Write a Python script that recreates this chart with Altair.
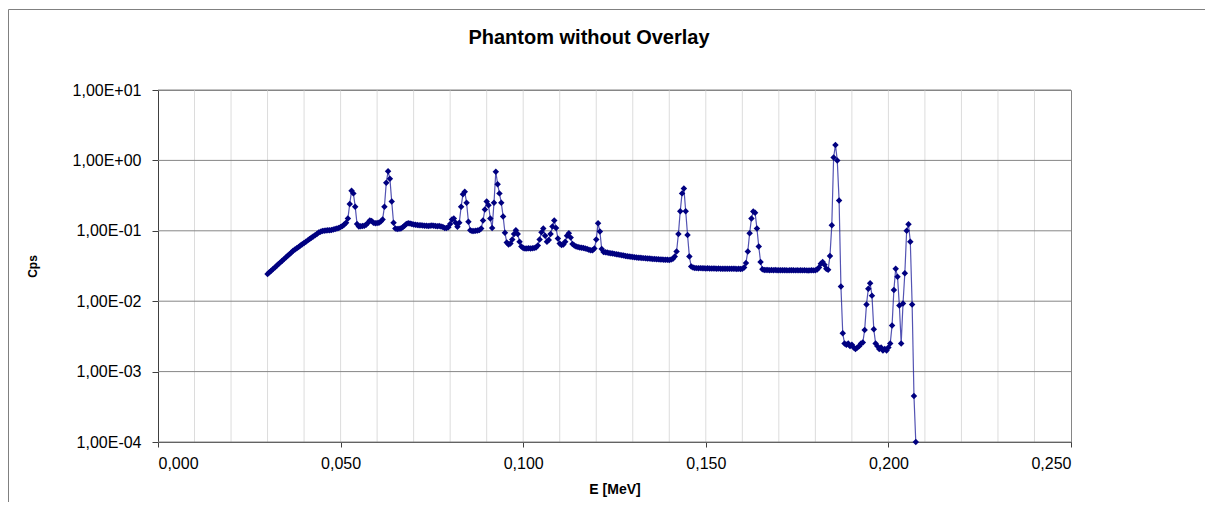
import altair as alt
import pandas as pd

# ---- data ----
TITLE = "Phantom without Overlay"
E_START = 0.0300   # MeV, first channel
E_STEP = 0.0005    # MeV, channel width

CPS_030_050 = [0.0243, 0.0257, 0.0271, 0.0286, 0.0302, 0.0319, 0.0337, 0.0356, 0.0375, 0.0396,
               0.0418, 0.0442, 0.0466, 0.0492, 0.0519, 0.0542, 0.0566, 0.0590, 0.0617, 0.0643,
               0.0671, 0.0700, 0.0731, 0.0762, 0.0796, 0.0830, 0.0867, 0.0904, 0.0944, 0.0973,
               0.0993, 0.1000, 0.1010, 0.1015, 0.1020, 0.1030, 0.1040, 0.1060, 0.1080, 0.1100]
CPS_050_080 = [0.1130, 0.1170, 0.1230, 0.1300, 0.1500, 0.2400, 0.3700, 0.3400, 0.2200, 0.1250,
               0.1150, 0.1160, 0.1170, 0.1180, 0.1220, 0.1300, 0.1400, 0.1380, 0.1300, 0.1280,
               0.1290, 0.1300, 0.1350, 0.1450, 0.2200, 0.4800, 0.7000, 0.5500, 0.2600, 0.1300,
               0.1080, 0.1060, 0.1070, 0.1080, 0.1120, 0.1180, 0.1250, 0.1280, 0.1270, 0.1250,
               0.1230, 0.1220, 0.1210, 0.1200, 0.1200, 0.1190, 0.1180, 0.1180, 0.1170, 0.1180,
               0.1190, 0.1180, 0.1170, 0.1160, 0.1170, 0.1150, 0.1130, 0.1100, 0.1100, 0.1120]
CPS_080_110 = [0.1250, 0.1450, 0.1500, 0.1300, 0.1140, 0.1300, 0.2200, 0.3300, 0.3600, 0.2500,
               0.1340, 0.1020, 0.0990, 0.0990, 0.1000, 0.1010, 0.1030, 0.1080, 0.1400, 0.2000,
               0.2600, 0.2300, 0.1500, 0.1100, 0.2500, 0.6900, 0.4600, 0.3400, 0.2500, 0.1600,
               0.0940, 0.0680, 0.0640, 0.0660, 0.0750, 0.0900, 0.1020, 0.0900, 0.0700, 0.0600,
               0.0570, 0.0560, 0.0560, 0.0565, 0.0560, 0.0565, 0.0570, 0.0580, 0.0620, 0.0750,
               0.0950, 0.1080, 0.0850, 0.0700, 0.0740, 0.0900, 0.1150, 0.1400, 0.1100, 0.0780]
CPS_110_140 = [0.0660, 0.0630, 0.0640, 0.0700, 0.0850, 0.0920, 0.0800, 0.0650, 0.0620, 0.0600,
               0.0590, 0.0580, 0.0575, 0.0570, 0.0560, 0.0550, 0.0540, 0.0530, 0.0530, 0.0560,
               0.0750, 0.1280, 0.0980, 0.0550, 0.0500, 0.0495, 0.0490, 0.0485, 0.0480, 0.0475,
               0.0470, 0.0465, 0.0460, 0.0455, 0.0450, 0.0445, 0.0440, 0.0436, 0.0432, 0.0428,
               0.0424, 0.0421, 0.0418, 0.0415, 0.0413, 0.0411, 0.0409, 0.0407, 0.0405, 0.0403,
               0.0401, 0.0399, 0.0397, 0.0395, 0.0393, 0.0391, 0.0390, 0.0389, 0.0388, 0.0387]
CPS_140_170 = [0.0386, 0.0390, 0.0400, 0.0430, 0.0510, 0.0900, 0.1900, 0.3400, 0.4000, 0.1900,
               0.0870, 0.0433, 0.0310, 0.0300, 0.0296, 0.0295, 0.0294, 0.0295, 0.0293, 0.0294,
               0.0292, 0.0293, 0.0292, 0.0291, 0.0292, 0.0291, 0.0290, 0.0291, 0.0290, 0.0289,
               0.0290, 0.0289, 0.0290, 0.0289, 0.0288, 0.0289, 0.0288, 0.0287, 0.0288, 0.0287,
               0.0290, 0.0300, 0.0350, 0.0510, 0.0920, 0.1500, 0.1880, 0.1800, 0.1080, 0.0600,
               0.0360, 0.0285, 0.0278, 0.0277, 0.0278, 0.0276, 0.0277, 0.0276, 0.0277, 0.0276]
CPS_170_200 = [0.0275, 0.0276, 0.0275, 0.0276, 0.0275, 0.0274, 0.0275, 0.0276, 0.0275, 0.0274,
               0.0275, 0.0274, 0.0275, 0.0274, 0.0275, 0.0274, 0.0273, 0.0274, 0.0275, 0.0274,
               0.0276, 0.0282, 0.0300, 0.0340, 0.0360, 0.0330, 0.0290, 0.0280, 0.0440, 0.1200,
               1.1000, 1.6600, 1.0000, 0.2700, 0.0162, 0.0035, 0.0025, 0.0024, 0.0025, 0.0023,
               0.0024, 0.0022, 0.0021, 0.0022, 0.0023, 0.0025, 0.0026, 0.0039, 0.0090, 0.0150,
               0.0180, 0.0120, 0.0040, 0.0025, 0.0023, 0.0021, 0.0022, 0.0020, 0.0021, 0.0020]
CPS_200_END = [0.0022, 0.0025, 0.0045, 0.0144, 0.0290, 0.0222, 0.0087, 0.0025, 0.0093, 0.0250,
               0.1000, 0.1240, 0.0700, 0.0090, 0.00045, 0.0001]

X_TICKS = [0.0, 0.05, 0.10, 0.15, 0.20, 0.25]
X_MINOR_GRID = [0.01, 0.02, 0.03, 0.04, 0.05, 0.06, 0.07, 0.08, 0.09, 0.10, 0.11, 0.12,
                0.13, 0.14, 0.15, 0.16, 0.17, 0.18, 0.19, 0.20, 0.21, 0.22, 0.23, 0.24]
Y_TICKS = [0.0001, 0.001, 0.01, 0.1, 1.0, 10.0]

CPS = CPS_030_050 + CPS_050_080 + CPS_080_110 + CPS_110_140 + CPS_140_170 + CPS_170_200 + CPS_200_END
E = [round(E_START + i * E_STEP, 4) for i in range(len(CPS))]

df = pd.DataFrame({"E": E, "Cps": CPS})

FONT = "Liberation Sans"
AX_DARK = "#404040"
GRID_MAJOR = "#868686"
GRID_MINOR = "#dcdcdc"

x_axis = alt.Axis(
    values=X_TICKS,
    labelExpr="replace(format(datum.value, '.3f'), '.', ',')",
    title="E [MeV]",
    grid=False,
    tickSize=5,
    labelPadding=8,
    titleFontSize=14,
    titlePadding=11,
)
y_axis = alt.Axis(
    values=Y_TICKS,
    labelExpr="'1,00E' + (round(log(datum.value) / LN10) < 0 ? '-' : '+') + '0' + abs(round(log(datum.value) / LN10))",
    title="Cps",
    grid=False,
    tickSize=6,
    labelPadding=11,
    titleFontSize=12,
    titlePadding=33,
)
x_scale = alt.Scale(domain=[0, 0.25], nice=False, zero=False)
y_scale = alt.Scale(type="log", domain=[0.0001, 10], nice=False)

x_enc = alt.X("E:Q", scale=x_scale, axis=x_axis)
y_enc = alt.Y("Cps:Q", scale=y_scale, axis=y_axis)

vgrid = alt.Chart(pd.DataFrame({"E": X_MINOR_GRID})).mark_rule(
    color=GRID_MINOR, strokeWidth=1
).encode(x=x_enc)

hgrid = alt.Chart(pd.DataFrame({"Cps": Y_TICKS})).mark_rule(
    color=GRID_MAJOR, strokeWidth=1
).encode(y=y_enc)

line = alt.Chart(df).mark_line(color="#1a1a99", strokeWidth=1.2, opacity=0.75).encode(
    x=x_enc, y=y_enc
)
pts = alt.Chart(df).mark_point(
    shape="diamond", filled=True, size=42, color="#000080", opacity=1
).encode(x=x_enc, y=y_enc)

one = pd.DataFrame({"k": [0]})
frame_left = alt.Chart(one).mark_rule(color="#808080", strokeWidth=1).encode(
    x=alt.value(-149.5), y=alt.value(-80.5), y2=alt.value(420)
)
frame_top = alt.Chart(one).mark_rule(color="#808080", strokeWidth=1).encode(
    x=alt.value(-149.5), x2=alt.value(1060), y=alt.value(-80.5)
)
title_text = alt.Chart(one).mark_text(
    font=FONT, fontSize=20, fontWeight="bold", color="#000000",
    align="center", baseline="middle",
).encode(text=alt.value(TITLE), x=alt.value(431), y=alt.value(-52))

chart = (
    alt.layer(vgrid, hgrid, line, pts, frame_left, frame_top, title_text)
    .properties(
        width=913,
        height=352,
        autosize=alt.AutoSizeParams(type="none"),
        padding={"left": 150, "top": 82, "right": 134, "bottom": 60},
    )
    .configure(background="white")
    .configure_view(stroke=GRID_MAJOR, strokeWidth=1)
    .configure_axis(
        labelFont=FONT,
        labelFontSize=16,
        labelColor="#000000",
        titleFont=FONT,
        titleFontWeight="bold",
        titleColor="#000000",
        domainColor=AX_DARK,
        tickColor=AX_DARK,
    )
)

chart.save("out.html", embed_options={"renderer": "svg", "actions": False})
